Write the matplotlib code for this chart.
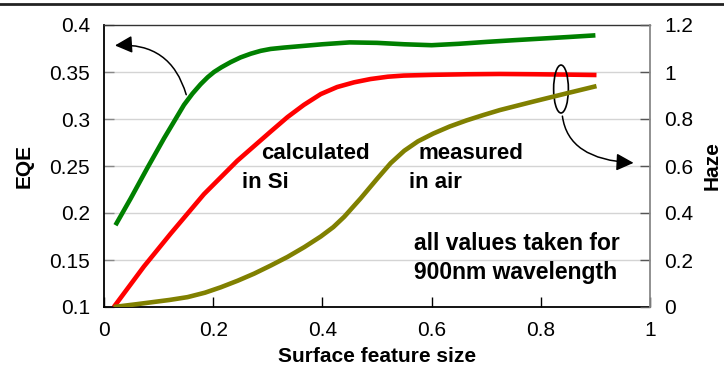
import matplotlib
matplotlib.use("Agg")
import matplotlib.pyplot as plt
from matplotlib.patches import Ellipse, FancyArrowPatch
from matplotlib.lines import Line2D

plt.rcParams['font.family'] = ['Liberation Sans', 'DejaVu Sans']

# Data
green_x = [0.021, 0.049, 0.079, 0.110, 0.1465, 0.162, 0.177, 0.19, 0.2015, 0.215, 0.232, 0.25, 0.269, 0.287, 0.305, 0.33, 0.36, 0.40, 0.45, 0.50, 0.55, 0.60, 0.65, 0.70, 0.75, 0.80, 0.85, 0.90]
green_eqe = [0.187, 0.2156, 0.2475, 0.2795, 0.315, 0.327, 0.337, 0.3445, 0.350, 0.355, 0.3605, 0.3655, 0.3695, 0.3725, 0.3745, 0.376, 0.3775, 0.3795, 0.3815, 0.381, 0.3795, 0.3785, 0.380, 0.382, 0.3838, 0.3855, 0.3872, 0.389]

red_x = [0.018, 0.073, 0.122, 0.183, 0.244, 0.305, 0.336, 0.366, 0.397, 0.427, 0.458, 0.488, 0.52, 0.549, 0.603, 0.665, 0.725, 0.79, 0.85, 0.902]
red_eqe = [0.100, 0.143, 0.178, 0.220, 0.2555, 0.2865, 0.302, 0.315, 0.3265, 0.334, 0.339, 0.3425, 0.345, 0.3462, 0.347, 0.3476, 0.3479, 0.3476, 0.3472, 0.3468]

olive_x = [0.018, 0.06, 0.0916, 0.12, 0.153, 0.185, 0.214, 0.245, 0.275, 0.305, 0.336, 0.367, 0.397, 0.42, 0.44, 0.47, 0.50, 0.525, 0.55, 0.575, 0.603, 0.633, 0.664, 0.695, 0.725, 0.786, 0.847, 0.902]
olive_haze = [0.000, 0.012, 0.0215, 0.030, 0.042, 0.061, 0.084, 0.112, 0.142, 0.176, 0.213, 0.255, 0.300, 0.340, 0.384, 0.462, 0.545, 0.612, 0.665, 0.705, 0.738, 0.768, 0.794, 0.817, 0.838, 0.874, 0.909, 0.940]

xticks = [0, 0.2, 0.4, 0.6, 0.8, 1]
xtick_labels = ['0', '0.2', '0.4', '0.6', '0.8', '1']
eqe_ticks = [0.1, 0.15, 0.2, 0.25, 0.3, 0.35, 0.4]
eqe_labels = ['0.1', '0.15', '0.2', '0.25', '0.3', '0.35', '0.4']
haze_ticks = [0, 0.2, 0.4, 0.6, 0.8, 1.0, 1.2]
haze_labels = ['0', '0.2', '0.4', '0.6', '0.8', '1', '1.2']

W, H = 724, 372
fig = plt.figure(figsize=(W / 100, H / 100), dpi=100)
fig.patch.set_facecolor('white')

def px(x, y):
    return (x / W, 1 - y / H)

L, R, T, B = 104, 650, 25, 307
ax = fig.add_axes([L / W, 1 - B / H, (R - L) / W, (B - T) / H])
ax2 = ax.twinx()

ax.set_xlim(0, 1)
ax.set_ylim(0.1, 0.4)
ax2.set_ylim(0, 1.2)

for y in eqe_ticks[1:-1]:
    ax.axhline(y, color='#d4d4d4', lw=1.0, zorder=0)

lw = 3.3
ax.plot(green_x, green_eqe, color='#008000', lw=lw, solid_capstyle='butt', solid_joinstyle='round', zorder=3)
ax.plot(red_x, red_eqe, color='#ff0000', lw=lw, solid_capstyle='butt', solid_joinstyle='round', zorder=3)
ax2.plot(olive_x, olive_haze, color='#808000', lw=lw, solid_capstyle='butt', solid_joinstyle='round', zorder=3)

ax.set_xticks(xticks)
ax.set_xticklabels(xtick_labels)
ax.set_yticks(eqe_ticks)
ax.set_yticklabels(eqe_labels)
ax2.set_yticks(haze_ticks)
ax2.set_yticklabels(haze_labels)

ax.tick_params(axis='x', direction='in', length=7, width=1, labelsize=15, pad=10, color='black')
ax.tick_params(axis='y', direction='in', length=7, width=1, labelsize=15, pad=10, color='#888888')
ax2.tick_params(axis='y', direction='in', length=7, width=1, labelsize=15, pad=10, color='#555555')

for s in ['left', 'bottom']:
    ax.spines[s].set_color('black')
    ax.spines[s].set_linewidth(1.3)
ax.spines['top'].set_color('#333333')
ax.spines['top'].set_linewidth(1.0)
ax2.spines['right'].set_color('#888888')
ax2.spines['right'].set_linewidth(1.3)
ax2.spines['top'].set_visible(False)
ax2.spines['left'].set_visible(False)
ax2.spines['bottom'].set_visible(False)
ax.spines['right'].set_visible(False)

fig.text(*px(24, 166), 'EQE', rotation=90, ha='center', va='center', fontsize=15, fontweight='bold')
fig.text(*px(712, 166), 'Haze', rotation=90, ha='center', va='center', fontsize=15, fontweight='bold')
fig.text(*px(377, 357), 'Surface feature size', ha='center', va='center', fontsize=15, fontweight='bold')

tk = dict(fontsize=16, fontweight='bold', va='center', ha='left')
fig.text(*px(261, 153), 'calculated', **tk)
fig.text(*px(242, 182), 'in Si', **tk)
fig.text(*px(418, 153), 'measured', **tk)
fig.text(*px(409, 182), 'in air', **tk)
fig.text(*px(414, 243), 'all values taken for', fontsize=16.5, fontweight='bold', va='center', ha='left')
fig.text(*px(414, 272), '900nm wavelength', fontsize=16.5, fontweight='bold', va='center', ha='left')

# ellipse around curves
ell = Ellipse((0.837, 0.3319), width=0.027, height=0.051, fill=False, ec='black', lw=1.2, zorder=4)
ax.add_patch(ell)

a1 = FancyArrowPatch((0.152, 0.323), (0.015, 0.378), connectionstyle='angle3,angleA=105,angleB=5',
                     arrowstyle='-|>,head_length=7,head_width=3.5', mutation_scale=1.5,
                     color='black', lw=1.1, zorder=5)
ax.add_patch(a1)
a2 = FancyArrowPatch((0.839, 0.306), (0.975, 0.2532), connectionstyle='angle3,angleA=-85,angleB=-2',
                     arrowstyle='-|>,head_length=7,head_width=3.5', mutation_scale=1.5,
                     color='black', lw=1.1, zorder=5, clip_on=False)
ax.add_patch(a2)

fig.add_artist(Line2D([0, 1], [1 - 4 / H, 1 - 4 / H], color='#222222', lw=2.0))

fig.savefig('out.png', dpi=100, facecolor='white')
